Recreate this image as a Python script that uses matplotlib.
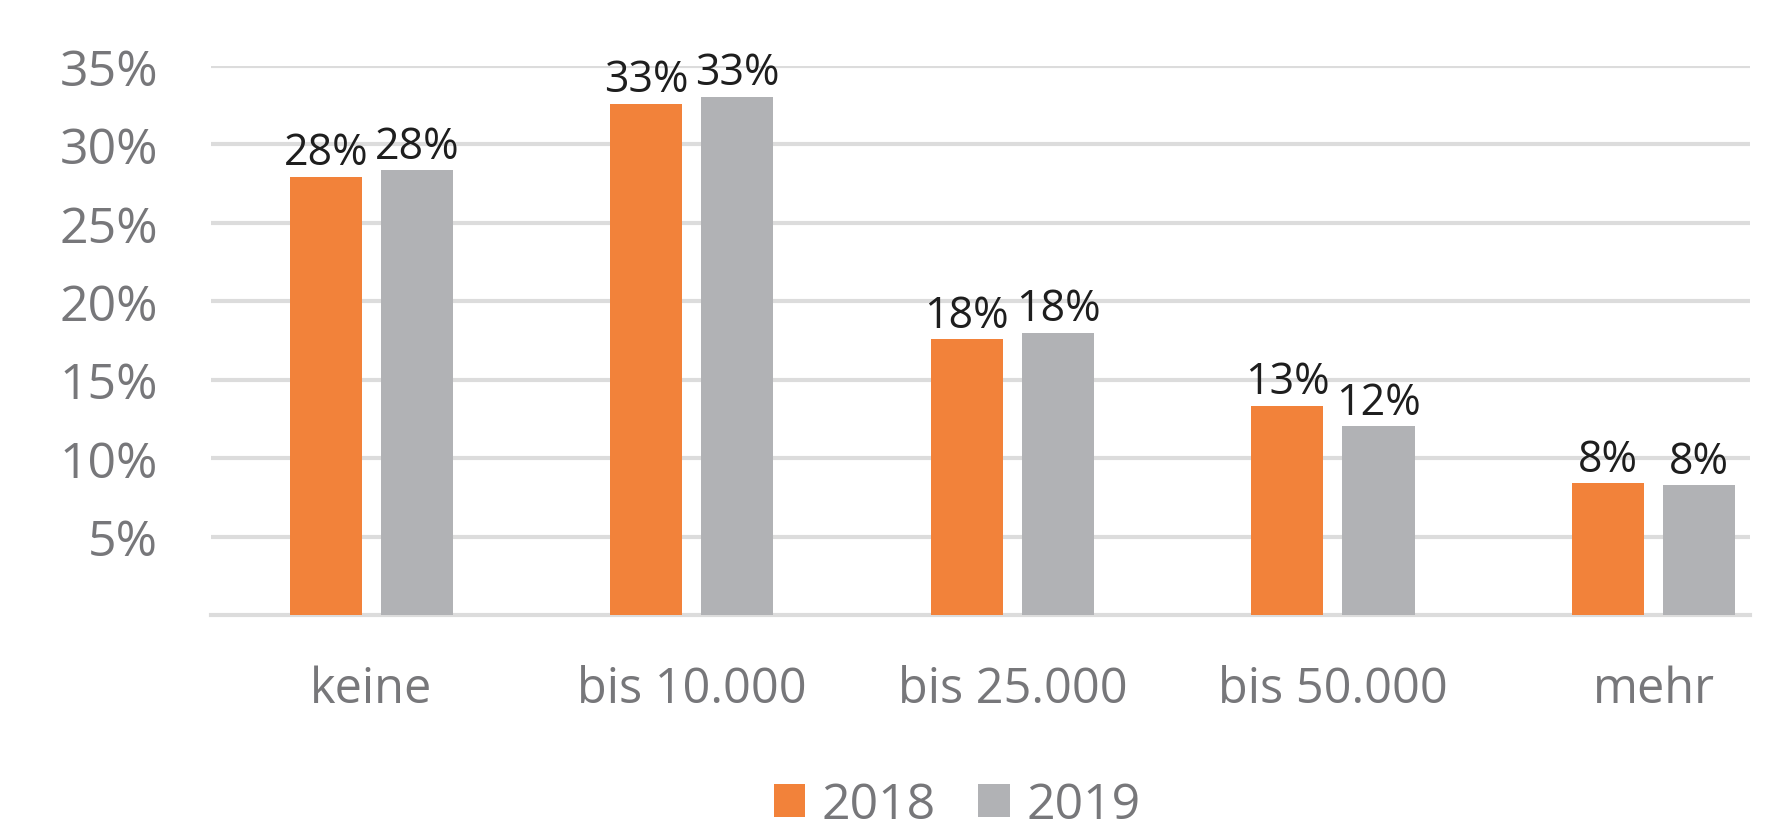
import matplotlib
matplotlib.use("Agg")
import matplotlib.pyplot as plt
from matplotlib.patches import Patch
import numpy as np

categories = ["keine", "bis 10.000", "bis 25.000", "bis 50.000", "mehr"]
series_names = ["2018", "2019"]
values_2018 = [27.95, 32.6, 17.6, 13.35, 8.4]
values_2019 = [28.35, 33.05, 18.0, 12.05, 8.27]
labels_2018 = ["28%", "33%", "18%", "13%", "8%"]
labels_2019 = ["28%", "33%", "18%", "12%", "8%"]
yticks = [5, 10, 15, 20, 25, 30, 35]
ytick_labels = ["5%", "10%", "15%", "20%", "25%", "30%", "35%"]

ORANGE = "#F2823A"
GRAY = "#B1B2B5"
TEXT_GRAY = "#77777A"
GRID = "#DCDCDC"

plt.rcParams['font.family'] = ['Open Sans', 'DejaVu Sans']

W, H = 1770, 837
fig = plt.figure(figsize=(W / 100, H / 100), dpi=100)
ax = fig.add_axes([211 / W, (H - 616) / H, (1750 - 211) / W, (616 - 67) / H])

x = np.arange(len(categories))
bw = 0.225
off = (bw + 0.059) / 2
b1 = ax.bar(x - off, values_2018, bw, color=ORANGE, zorder=3)
b2 = ax.bar(x + off, values_2019, bw, color=GRAY, zorder=3)

for rects, labs in ((b1, labels_2018), (b2, labels_2019)):
    for r, lab in zip(rects, labs):
        ax.annotate(lab, (r.get_x() + r.get_width() / 2, r.get_height()),
                    xytext=(0, 1), textcoords="offset points",
                    ha="center", va="bottom", fontsize=31, color="#1E1E1E",
                    zorder=4, annotation_clip=False)

ax.set_xlim(-0.5, 4.301)
ax.set_ylim(0, 35)
ax.set_yticks(yticks)
ax.set_yticklabels(ytick_labels, fontsize=36, color=TEXT_GRAY)
ax.set_xticks(x)
ax.set_xticklabels(categories, fontsize=35, color=TEXT_GRAY)
ax.tick_params(axis="y", length=0, pad=38)
ax.tick_params(axis="x", length=0, pad=36)
ax.yaxis.grid(True, color=GRID, linewidth=3, zorder=0)
ax.set_axisbelow(True)
for s in ["top", "right", "left"]:
    ax.spines[s].set_visible(False)
ax.spines["bottom"].set_color(GRID)
ax.spines["bottom"].set_linewidth(3)

handles = [Patch(facecolor=ORANGE, edgecolor="none"), Patch(facecolor=GRAY, edgecolor="none")]
leg = fig.legend(handles, series_names, loc="center", bbox_to_anchor=(957 / W, 1 - 806 / H),
                 ncol=2, frameon=False, fontsize=36, handlelength=0.63, handleheight=0.63,
                 handletextpad=0.33, columnspacing=0.84)
for t in leg.get_texts():
    t.set_color(TEXT_GRAY)

fig.savefig("out.png", dpi=100)
